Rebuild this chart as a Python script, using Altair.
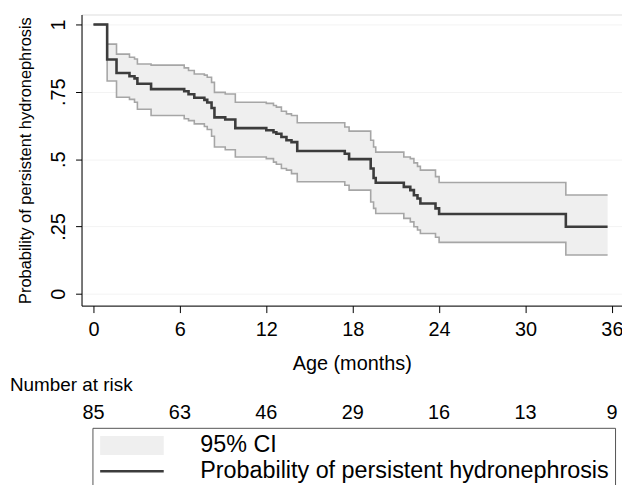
import altair as alt
import pandas as pd

# Kaplan-Meier steps
times = [0, 0.95, 1.6, 2.5, 2.85, 3.05, 4.0, 6.3, 6.6, 7.0, 7.7, 7.9, 8.2, 8.4, 9.15,
         9.85, 12.0, 12.5, 12.7, 13.05, 13.4, 13.75, 14.15, 17.45, 17.75, 19.25,
         19.45, 19.6, 21.55, 22.0, 22.25, 22.5, 22.7, 23.75, 24.0, 32.8, 35.7]
surv = [1.0, 0.87, 0.82, 0.808, 0.80, 0.78, 0.76, 0.752, 0.741, 0.728, 0.72, 0.71, 0.69,
        0.655, 0.647, 0.615, 0.607, 0.600, 0.594, 0.582, 0.570, 0.563, 0.530, 0.520,
        0.50, 0.465, 0.43, 0.412, 0.397, 0.385, 0.366, 0.354, 0.335, 0.317, 0.296,
        0.249, 0.249]
lower = [1.0, 0.79, 0.73, 0.722, 0.711, 0.685, 0.662, 0.65, 0.643, 0.631, 0.621, 0.61,
         0.585, 0.545, 0.535, 0.508, 0.502, 0.489, 0.481, 0.465, 0.459, 0.446, 0.416,
         0.403, 0.385, 0.341, 0.317, 0.298, 0.28, 0.267, 0.249, 0.237, 0.224, 0.21,
         0.191, 0.144, 0.144]
upper = [1.0, 0.927, 0.89, 0.878, 0.872, 0.853, 0.849, 0.839, 0.829, 0.816, 0.812, 0.804,
         0.785, 0.748, 0.742, 0.711, 0.707, 0.699, 0.693, 0.678, 0.668, 0.662, 0.635,
         0.619, 0.604, 0.570, 0.545, 0.526, 0.508, 0.502, 0.486, 0.473, 0.459, 0.435,
         0.413, 0.367, 0.367]

risk_times = [0, 6, 12, 18, 24, 30, 36]
risk_counts = [85, 63, 46, 29, 16, 13, 9]
x_ticks = [0, 6, 12, 18, 24, 30, 36]
y_ticks = [0, 0.25, 0.5, 0.75, 1]
legend_labels = ["95% CI", "Probability of persistent hydronephrosis"]
risk_title = ["Number at risk"]

FONT = "Liberation Sans"
CI_FILL = "#efefef"
CI_LINE = "#a6a6a6"
KM_COL = "#3c3c3c"

df = pd.DataFrame({"t": times, "S": surv, "lo": lower, "hi": upper})
risk_df = pd.DataFrame({"t": risk_times, "n": risk_counts})
title_df = pd.DataFrame({"label": risk_title})
legend_df = pd.DataFrame({"series": legend_labels})

xscale = alt.Scale(domain=[-0.83, 36.7], nice=False, zero=False)
yscale = alt.Scale(domain=[-0.044, 1.037], nice=False, zero=False)

xaxis = alt.Axis(values=x_ticks, title="Age (months)", tickSize=7, labelFontSize=20,
                 labelPadding=7, titleFontSize=20, titleFontWeight="normal",
                 titlePadding=14, grid=False, domainColor="#000", tickColor="#000",
                 labelColor="#000", titleColor="#000", labelFont=FONT, titleFont=FONT)
yaxis = alt.Axis(values=y_ticks, title="Probability of persistent hydronephrosis",
                 labelExpr="replace(format(datum.value, '~g'), '0.', '.')",
                 labelAngle=270, labelAlign="center", labelBaseline="bottom",
                 tickSize=6, labelFontSize=20, labelPadding=7, titleFontSize=16.5,
                 titleFontWeight="normal", titlePadding=15, grid=True,
                 gridColor="#f3f3f3", domainColor="#000", tickColor="#000",
                 labelColor="#000", titleColor="#000", labelFont=FONT, titleFont=FONT)

RECT = "M-2,-1.9H10.8V1.9H-2Z"
LINE = "M-2,-0.25H10.8V0.25H-2Z"
legend = alt.Legend(
    title=None, orient="none", legendX=11, legendY=416, direction="vertical",
    strokeColor="#555", fillColor="white", padding=6, symbolSize=100,
    symbolOpacity=1, symbolStrokeWidth=0,
    labelOffset=79, labelFontSize=23.5, labelFont=FONT, labelColor="#000",
    labelLimit=0, rowPadding=1,
    labelExpr="datum.label + '\u00a0\u00a0\u00a0'",
)
color_scale = alt.Scale(domain=legend_labels, range=[CI_FILL, KM_COL])
shape_scale = alt.Scale(domain=legend_labels, range=[RECT, LINE])

base = alt.Chart(df)

area = base.mark_area(interpolate="step-after", color=CI_FILL).encode(
    x=alt.X("t:Q", scale=xscale, axis=xaxis),
    y=alt.Y("lo:Q", scale=yscale, axis=yaxis),
    y2="hi:Q",
)

lo_line = base.mark_line(interpolate="step-after", color=CI_LINE, strokeWidth=1.6).encode(
    x="t:Q", y="lo:Q")
hi_line = base.mark_line(interpolate="step-after", color=CI_LINE, strokeWidth=1.6).encode(
    x="t:Q", y="hi:Q")

km = base.mark_line(interpolate="step-after", strokeWidth=2.6, color=KM_COL).encode(
    x="t:Q", y="S:Q")

# legend carrier: empty point layer, entries come from the explicit domains
leg = alt.Chart(legend_df).mark_point(filled=True, opacity=1).transform_filter("false").encode(
    color=alt.Color("series:N", scale=color_scale, legend=legend),
    shape=alt.Shape("series:N", scale=shape_scale, legend=legend),
)

risk = alt.Chart(risk_df).mark_text(fontSize=20, font=FONT, color="#000", baseline="middle").encode(
    x="t:Q", y=alt.value(401), text="n:Q")

risk_lbl = alt.Chart(title_df).mark_text(fontSize=19, font=FONT, color="#000", align="left",
                                         baseline="middle").encode(
    x=alt.value(-72), y=alt.value(373), text="label:N")

chart = alt.layer(area, lo_line, hi_line, km, leg, risk, risk_lbl).properties(
    width=544, height=293,
    autosize=alt.AutoSizeParams(type="none"),
    padding={"left": 74, "top": 5, "right": 0, "bottom": 179},
).configure_view(strokeWidth=0).configure(background="white")

chart.save("out.html", embed_options={"renderer": "svg", "actions": False})
